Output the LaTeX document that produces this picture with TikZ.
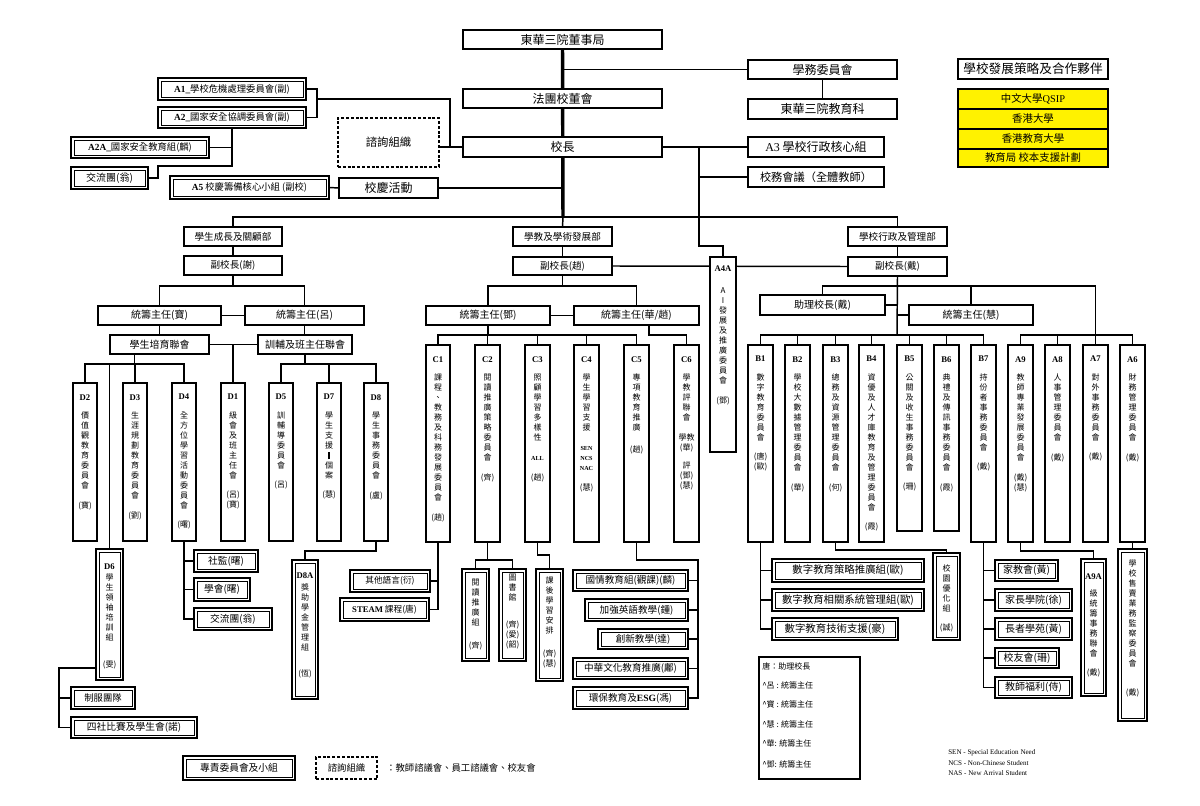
\documentclass[tikz,border=0pt]{standalone}
\usepackage{fontspec}
\setmainfont{Liberation Serif}
\newfontfamily\cjk{Noto Sans CJK TC}
\usetikzlibrary{calc}
\pgfdeclarelayer{bg}\pgfsetlayers{bg,main}
\makeatletter
\newcommand\vs[1]{\@tfor\vsch:=#1\do{\hbox to 12pt{\hss\vsch\hss}}}
\makeatother
\newcommand\tg[1]{\hbox to 12pt{\hss#1\hss}}
\newcommand\cd[1]{\hbox to 12pt{\hss\normalfont\bfseries\fontsize{6.5}{7.5}\selectfont#1\hss}}
\newcommand\vfmt{\cjk\fontsize{6}{7.5}\selectfont\baselineskip=7.5pt\lineskiplimit=-100pt\lineskip=0pt}
\newcommand\vcol[4][6.5pt]{\vbox{\vfmt\cd{#2}\vskip#1\relax\vs{#3}\vskip7pt\relax#4}}
\newcommand\vcoln[2]{\vbox{\vfmt\vs{#1}\vskip7pt\relax#2}}
\newcommand\ltb{\normalfont\bfseries\fontsize{4.6}{5}\selectfont}
\newcommand\R[7][]{\node[box,#1,minimum width={((#5)-(#3))*0.75pt},minimum height={((#6)-(#4))*0.75pt}] (#2) at ({((#3)+(#5))/2},{((#4)+(#6))/2}) {#7};}
\newcommand\DR[7][]{\R[dbl,#1]{#2}{#3}{#4}{#5}{#6}{#7}\draw[line width=0.55pt] ([shift={(2.2pt,2.2pt)}]#2.south west) rectangle ([shift={(-2.2pt,-2.2pt)}]#2.north east);}
\newcommand\Col[8][]{\R[#1]{#2}{#3}{#5}{#4}{#6}{}\node[anchor=north,inner sep=0pt] at ({((#3)+(#4))/2},#7) {#8};}
\newcommand\DCol[8][]{\Col[dbl,#1]{#2}{#3}{#4}{#5}{#6}{#7}{#8}\draw[line width=0.55pt] ([shift={(2.2pt,2.2pt)}]#2.south west) rectangle ([shift={(-2.2pt,-2.2pt)}]#2.north east);}
\begin{document}
\begin{tikzpicture}[x=0.75pt,y=-0.75pt,
 box/.style={draw,line width=1.2pt,fill=white,inner sep=0pt,outer sep=0pt,align=center},
 dbl/.style={line width=1.5pt},
 dsh/.style={dashed,dash pattern=on 2.2pt off 1.4pt},
 yel/.style={fill=yellow},
 fs/.style={font=\cjk\fontsize{#1}{#1}\selectfont},
 ln/.style={line width=1.1pt},
 thk/.style={line width=2.6pt}]
\useasboundingbox (0,0) rectangle (1200,806);

% ---- top
\R[fs=9]{dong}{463}{30}{662}{49}{東華三院董事局}
\R[fs=9]{fatuan}{463}{89}{662}{108}{法團校董會}
\R[fs=9]{xz}{463}{137}{662}{157}{校長}
\R[fs=9]{xw}{748}{60}{897}{79}{學務委員會}
\R[fs=9]{jyk}{748}{99}{897}{119}{東華三院教育科}
\R[fs=9]{a3}{748}{137}{884}{157}{{\normalfont A3} 學校行政核心組}
\R[fs=8.4]{xwhy}{748}{167}{884}{187}{校務會議（全體教師）}
\DR[fs=7]{a1}{158}{78}{306}{100}{{\normalfont\bfseries A1\_}學校危機處理委員會(副)}
\DR[fs=7]{a2}{158}{107}{306}{128}{{\normalfont\bfseries A2\_}國家安全協調委員會(副)}
\R[dsh,fs=8.5]{zx}{338}{118}{439}{167}{諮詢組織}
\DR[fs=7]{a2a}{71}{137}{209}{158}{{\normalfont\bfseries A2A\_}國家安全教育組(麟)}
\DR[fs=7.5]{jlt1}{71}{167}{148}{189}{交流團(翁)}
\DR[fs=7]{a5}{170}{176}{329}{199}{{\normalfont\bfseries A5} 校慶籌備核心小組 (副校)}
\R[fs=9]{xqhd}{339}{178}{438}{198}{校慶活動}

% ---- partners
\R[fs=9.5,line width=1.6pt]{fz}{958}{59}{1108}{79}{學校發展策略及合作夥伴}
\R[yel,fs=7.8]{y1}{958}{89}{1108}{109}{中文大學{\normalfont QSIP}}
\R[yel,fs=7.8]{y2}{958}{109}{1108}{129}{香港大學}
\R[yel,fs=7.8]{y3}{958}{129}{1108}{149}{香港教育大學}
\R[yel,fs=7.8]{y4}{958}{149}{1108}{167}{教育局 校本支援計劃}
\draw[line width=1.6pt] (y1.north west) rectangle (y4.south east);

% ---- departments
\R[fs=7.2]{d1dep}{184}{227}{282}{246}{學生成長及關顧部}
\R[fs=7.2]{d1vp}{184}{256}{282}{275}{副校長(謝)}
\R[fs=7.5]{tcb}{98}{306}{221}{325}{統籌主任(寶)}
\R[fs=7.5]{tcl}{245}{306}{364}{325}{統籌主任(呂)}
\R[fs=7.5]{pyl}{110}{335}{209}{354}{學生培育聯會}
\R[fs=7.5]{xfl}{258}{335}{352}{354}{訓輔及班主任聯會}
\R[fs=7.2]{cdep}{513}{227}{612}{246}{學教及學術發展部}
\R[fs=7.2]{cvp}{513}{257}{612}{275}{副校長(趙)}
\R[fs=7.5]{tcd}{426}{306}{550}{325}{統籌主任(鄧)}
\R[fs=7.5]{tch}{574}{306}{699}{325}{統籌主任(華/趙)}
\R[fs=7.2]{bdep}{848}{227}{947}{246}{學校行政及管理部}
\R[fs=7.2]{bvp}{848}{257}{947}{276}{副校長(戴)}
\R[fs=7.5]{zl}{760}{295}{885}{315}{助理校長(戴)}
\R[fs=7.5]{tch2}{909}{305}{1033}{325}{統籌主任(慧)}

\Col{a4a}{710}{736}{257}{452}{266}{\vcol[9pt]{A4A}{AI發展及推廣委員會}{\tg{(鄧)}}}

% ---- D row
\Col{D2}{73}{97}{383}{541}{394}{\vcol{D2}{價值觀教育委員會}{\tg{(寶)}}}
\Col{D3}{123}{147}{383}{541}{394}{\vcol{D3}{生涯規劃教育委員會}{\tg{(劉)}}}
\Col{D4}{172}{196}{383}{541}{394}{\vcol{D4}{全方位學習活動委員會}{\tg{(曙)}}}
\Col{D1}{221}{245}{383}{541}{394}{\vcol{D1}{級會及班主任會}{\tg{(呂)}\tg{(寶)}}}
\Col{D5}{269}{293}{383}{541}{394}{\vcol{D5}{訓輔導委員會}{\tg{(呂)}}}
\Col{D7}{317}{341}{383}{541}{394}{\vbox{\vfmt\cd{D7}\vskip6.5pt\relax\vs{學生支援}\hbox to 12pt{\hss\rule[-0.5pt]{1pt}{5.5pt}\hss}\vs{個案}\vskip7pt\relax\tg{(慧)}}}
\Col{D8}{364}{388}{383}{541}{394}{\vcol{D8}{學生事務委員會}{\tg{(盧)}}}

% ---- C row
\Col{C1}{426}{450}{345}{542}{356}{\vcol{C1}{課程、教務及科務發展委員會}{\tg{(趙)}}}
\Col{C2}{475}{500}{345}{542}{356}{\vcol{C2}{閱讀推廣策略委員會}{\tg{(齊)}}}
\Col{C3}{525}{550}{345}{542}{356}{\vcol{C3}{照顧學習多樣性}{\tg{\ltb ALL}\vskip7.5pt\relax\tg{(趙)}}}
\Col{C4}{574}{599}{345}{542}{356}{\vcol{C4}{學生學習支援}{\tg{\ltb SEN}\tg{\ltb NCS}\tg{\ltb NAC}\vskip7.5pt\relax\tg{(慧)}}}
\Col{C5}{624}{649}{345}{542}{356}{\vcol{C5}{專項教育推廣}{\vskip2pt\relax\tg{(趙)}}}
\Col{C6}{674}{699}{345}{542}{356}{\vcol{C6}{學教評聯會}{\tg{學教}\tg{(華)}\vskip6pt\relax\tg{評}\tg{(鄧)}\tg{(慧)}}}

% ---- B / A row
\Col{B1}{748}{773}{345}{542}{356}{\vcol{B1}{數字教育委員會}{\tg{(唐)}\tg{(歐)}}}
\Col{B2}{785}{810}{345}{542}{356}{\vcol{B2}{學校大數據管理委員會}{\tg{(華)}}}
\Col{B3}{823}{848}{345}{542}{356}{\vcol{B3}{總務及資源管理委員會}{\tg{(何)}}}
\Col{B4}{859}{884}{345}{542}{356}{\vcol{B4}{資優及人才庫教育及管理委員會}{\tg{(霞)}}}
\Col{B5}{897}{922}{345}{531}{356}{\vcol{B5}{公關及收生事務委員會}{\tg{(珊)}}}
\Col{B6}{934}{959}{345}{531}{356}{\vcol{B6}{典禮及傳訊事務委員會}{\tg{(霞)}}}
\Col{B7}{971}{996}{345}{542}{356}{\vcol{B7}{持份者事務委員會}{\tg{(戴)}}}
\Col{A9}{1008}{1033}{345}{542}{356}{\vcol{A9}{教師專業發展委員會}{\tg{(戴)}\tg{(慧)}}}
\Col{A8}{1045}{1070}{345}{542}{356}{\vcol{A8}{人事管理委員會}{\tg{(戴)}}}
\Col{A7}{1083}{1108}{345}{542}{356}{\vcol{A7}{對外事務委員會}{\tg{(戴)}}}
\Col{A6}{1120}{1145}{345}{542}{356}{\vcol{A6}{財務管理委員會}{\tg{(戴)}}}

% ---- lower vertical boxes
\DCol{D6}{96}{123}{549}{680}{563}{\vcol[1pt]{D6}{學生領袖培訓組}{\vskip6pt\relax\tg{(雯)}}}
\DCol{D8A}{292}{318}{560}{699}{572}{\vcol[1.5pt]{D8A}{獎助學金管理組}{\vskip5pt\relax\tg{(恆)}}}
\DCol{ydtg}{462}{489}{569}{661}{578.5}{\vcoln{閱讀推廣組}{\vskip3pt\relax\tg{(齊)}}}
\DCol{tsg}{499}{526}{569}{661}{573.5}{\vcoln{圖書館}{\vskip6pt\relax\tg{(齊)}\tg{(愛)}\tg{(韶)}}}
\DCol{khxx}{536}{563}{569}{681}{576.5}{\vcoln{課後學習安排}{\vskip3pt\relax\tg{(齊)}\tg{(慧)}}}
\DCol{xyyh}{933}{960}{553}{640}{564}{\vcoln{校園優化組}{\tg{(誠)}}}
\DCol{A9A}{1081}{1106}{559}{696}{573}{\vcol[5.5pt]{A9A}{級統籌事務聯會}{\tg{(戴)}}}
\DCol{ssjc}{1118}{1147}{549}{721}{559.5}{\vcoln{學校售賣業務監察委員會}{\vskip7pt\relax\tg{(戴)}}}

% ---- lower horizontal boxes
\DR[fs=6.5]{qtyy}{350}{570}{430}{592}{其他語言(衍)}
\DR[fs=6.5]{steam}{340}{598}{429}{621}{{\normalfont\bfseries STEAM} 課程(唐)}
\DR[fs=7.2]{gq}{573}{570}{688}{591}{國情教育組(觀課)(麟)}
\DR[fs=7.2]{jqyy}{585}{599}{688}{621}{加強英語教學(鍾)}
\DR[fs=7.2]{cxjx}{598}{629}{688}{649}{創新教學(達)}
\DR[fs=7.2]{zhwh}{573}{658}{688}{679}{中華文化教育推廣(鄘)}
\DR[fs=7.2]{hbjy}{573}{687}{688}{709}{環保教育及{\normalfont\bfseries ESG}(馮)}
\DR[fs=7.3]{sj}{194}{550}{258}{572}{社監(曙)}
\DR[fs=7.3]{xh}{194}{578}{250}{601}{學會(曙)}
\DR[fs=7.3]{jlt2}{194}{608}{272}{630}{交流團(翁)}
\DR[fs=7]{zftd}{71}{687}{135}{709}{制服團隊}
\DR[fs=7.3]{sbrt}{71}{717}{197}{738}{四社比賽及學生會(諾)}
\DR[fs=7.8]{szcl}{772}{559}{924}{582}{數字教育策略推廣組(歐)}
\DR[fs=7.8]{szxt}{772}{589}{924}{611}{數字教育相關系統管理組(歐)}
\DR[fs=7.8]{szjs}{772}{618}{898}{640}{數字教育技術支援(豪)}
\DR[fs=7.5]{jjh}{995}{560}{1058}{581}{家教會(黃)}
\DR[fs=7.5]{jzxy}{995}{589}{1072}{611}{家長學院(徐)}
\DR[fs=7.5]{zzxy}{995}{618}{1072}{640}{長者學苑(黃)}
\DR[fs=7.5]{xyh}{995}{648}{1059}{668}{校友會(珊)}
\DR[fs=7.5]{jsfl}{995}{677}{1072}{698}{教師福利(侍)}

% ---- legends
\DR[fs=7.3]{lg1}{183}{756}{295}{780}{專責委員會及小組}
\R[dsh,fs=7]{lg2}{316}{757}{377}{779}{諮詢組織}
\node[fs=7,anchor=west,inner sep=0pt] (lg3) at (386,768) {：教師諮議會、員工諮議會、校友會};
\R[line width=0.8pt]{lgb}{759}{657}{860}{779}{}
\node[fs=6,anchor=west,inner sep=0pt] (l1) at (762,666) {唐：助理校長};
\node[fs=6,anchor=west,inner sep=0pt] (l2) at (762,685) {\textasciicircum 呂 : 統籌主任};
\node[fs=6,anchor=west,inner sep=0pt] (l3) at (762,704) {\textasciicircum 寶 : 統籌主任};
\node[fs=6,anchor=west,inner sep=0pt] (l4) at (762,724) {\textasciicircum 慧 : 統籌主任};
\node[fs=6,anchor=west,inner sep=0pt] (l5) at (762,743) {\textasciicircum 華: 統籌主任};
\node[fs=6,anchor=west,inner sep=0pt] (l6) at (762,764) {\textasciicircum 鄧: 統籌主任};
\node[anchor=west,inner sep=0pt,font=\fontsize{5.3}{6}\selectfont] (sen) at (948,753) {SEN - Special Education Need};
\node[anchor=west,inner sep=0pt,font=\fontsize{5.3}{6}\selectfont] (ncs) at (948,763) {NCS - Non-Chinese Student};
\node[anchor=west,inner sep=0pt,font=\fontsize{5.3}{6}\selectfont] (nas) at (948,773) {NAS - New Arrival Student};

% ---- connectors
\begin{pgfonlayer}{bg}
\fill[white] (0,0) rectangle (1200,806);
\coordinate (dbar) at (563,217);
\draw[thk] (dong.south) -- (dbar);
\draw[ln] (xw.west) -- (xw.west -| dong.south);
\draw[ln] (xw.south) -- (jyk.north);
\draw[ln] (xz.east) -- (a3.west);
\coordinate (v1) at (699,147);
\coordinate (v2) at (699,246);
\draw[ln] (v1) |- (xwhy.west);
\draw[ln] (v1) -- (v2) -| (a4a.north);
\draw[ln] (d1dep.north) -- ++(0,-10) -| (bdep.north);
\draw[ln] (dbar) -- (cdep.north);
\draw[ln] (d1dep.south) -- (d1vp.north);
\draw[ln] (cdep.south) -- (cvp.north);
\draw[ln] (bdep.south) -- (bvp.north);
\draw[ln] (cvp.east) -- (bvp.west);
% top left
\coordinate (ab) at (317,99);
\coordinate (zj) at (450,147);
\draw[ln] (a1.east) -| (a2.east -| ab) -- (a2.east);
\draw[ln] (ab) -| (zj);
\draw[ln] (xz.west -| zx.east) -- (xz.west);
\coordinate (a2j) at (158,166);
\draw[ln] (a2.south) |- (a2j) |- (jlt1.east);
\draw[ln] (a2a.east) -- (a2a.east -| a2.south);
\draw[ln] (a5.east) -- (xqhd.west);
\draw[ln] (xqhd.east) -- (xqhd.east -| dong.south);
% D side
\draw[ln] (d1vp.south) -- ++(0,11);
\draw[ln] (tcb.north) -- ++(0,-20) -| (tcl.north);
\draw[ln] (tcb.east) -- (tcl.west);
\draw[ln] (tcb.south) -- (pyl.north);
\draw[ln] (tcl.south) -- (tcl.south |- xfl.north);
\draw[ln] (pyl.east) -- (xfl.west);
\draw[ln] (D1.north) -- (D1.north |- pyl.east);
\coordinate (pj) at (134.5,364);
\draw[ln] (pyl.south -| pj) -- (pj);
\draw[ln] (D2.north) |- (pj) -| (D4.north);
\draw[ln] (D3.north) -- (D3.north |- pj);
\draw[ln] (D6.north) -- (D6.north |- pj);
\coordinate (xj) at (305,364);
\draw[ln] (xfl.south) -- (xj);
\draw[ln] (D5.north) |- (xj) -| (D8.north);
\draw[ln] (D7.north) -- (D7.north |- xj);
% C side
\draw[ln] (cvp.south) -- ++(0,11);
\draw[ln] (tcd.north) -- ++(0,-20) -| (tch.north);
\draw[ln] (tcd.east) -- (tch.west);
\coordinate (cj) at (488,335);
\draw[ln] (tcd.south) -- (cj);
\draw[ln] (C1.north) |- (cj) -| (C5.north);
\foreach \n in {C2,C3,C4} {\draw[ln] (\n.north) -- (\n.north |- cj);}
\coordinate (hj) at (649,335);
\draw[ln] (tch.south -| hj) -- (hj) -| (C6.north);
% B side
\coordinate (bj) at (897,286);
\coordinate (brow) at (897,335);
\draw[ln] (bvp.south) -- (brow);
\draw[ln] (zl.north) |- (bj) -| (A7.north);
\draw[ln] (tch2.north) -- (tch2.north |- bj);
\draw[ln] (zl.east) -- (zl.east -| bj);
\draw[ln] (tch2.west) -- (tch2.west -| bj);
\draw[ln] (B1.north) |- (brow) -| (B7.north);
\foreach \n in {B2,B3,B4,B5,B6} {\draw[ln] (\n.north) -- (\n.north |- brow);}
\draw[ln] (A9.north) -- ++(0,-10) -| (A6.north);
\draw[ln] (A8.north) -- ++(0,-10);
% lower
\draw[ln] (D4.south) |- (jlt2.west);
\draw[ln] (sj.west) -- (sj.west -| D4.south);
\draw[ln] (xh.west) -- (xh.west -| D4.south);
\coordinate (d6j) at (59,668);
\draw[ln] (D6.west |- d6j) -- (d6j) |- (sbrt.west);
\draw[ln] (zftd.west) -- (zftd.west -| d6j);
\draw[ln] (D8.south) -- ++(0,10) -| (D8A.north);
\draw[ln] (C1.south) |- (steam.east);
\draw[ln] (qtyy.east) -- (qtyy.east -| C1.south);
\coordinate (c2j) at (487.5,560);
\draw[ln] (C2.south) -- (c2j);
\draw[ln] (ydtg.north) |- (c2j) -| (tsg.north);
\draw[ln] (C3.south) -- ++(0,13) -| (khxx.north);
\coordinate (c5r) at (698,560);
\draw[ln] (C5.south) |- (c5r) |- (hbjy.east);
\foreach \n in {gq,jqyy,cxjx,zhwh} {\draw[ln] (\n.east) -- (\n.east -| c5r);}
\draw[ln] (B1.south) |- (szjs.west);
\draw[ln] (szcl.west) -- (szcl.west -| B1.south);
\draw[ln] (szxt.west) -- (szxt.west -| B1.south);
\draw[ln] (B3.south) -- ++(0,8) -| (xyyh.north);
\draw[ln] (B7.south) |- (jsfl.west);
\foreach \n in {jjh,jzxy,zzxy,xyh} {\draw[ln] (\n.west) -- (\n.west -| B7.south);}
\draw[ln] (A9.south) -- ++(0,9) -| (A9A.north);
\draw[ln] (A6.south) -- (ssjc.north);
\end{pgfonlayer}
\end{tikzpicture}
\end{document}
